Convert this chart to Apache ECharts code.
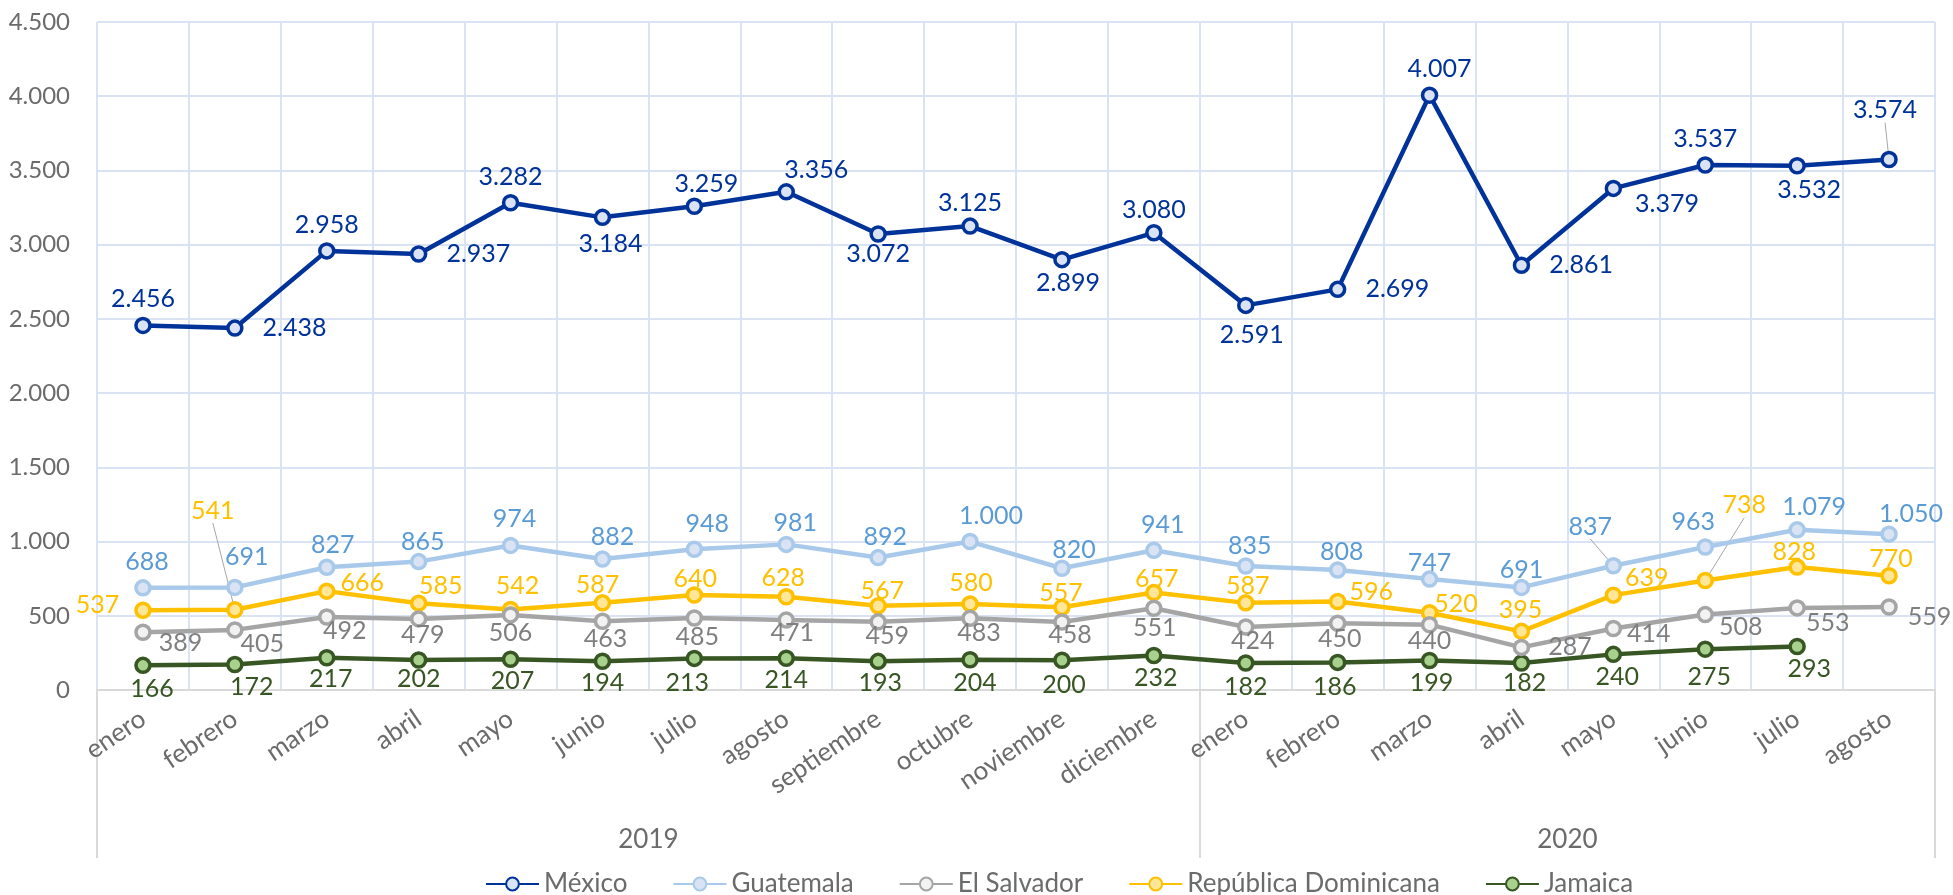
<!DOCTYPE html>
<html>
<head>
<meta charset="utf-8">
<script src="https://cdn.jsdelivr.net/npm/echarts@6/dist/echarts.min.js"></script>
<style>
  html, body { margin: 0; padding: 0; background: #fff; }
  #chart { width: 1953px; height: 895px; }
</style>
</head>
<body>
<div id="chart"></div>
<script>
// datos
var months = ['enero', 'febrero', 'marzo', 'abril', 'mayo', 'junio', 'julio', 'agosto',
  'septiembre', 'octubre', 'noviembre', 'diciembre',
  'enero', 'febrero', 'marzo', 'abril', 'mayo', 'junio', 'julio', 'agosto'];
var years = ['2019', '2020'];
var yearMonths = [12, 8];
var yTicks = [0, 500, 1000, 1500, 2000, 2500, 3000, 3500, 4000, 4500];

var mexico = [2456, 2438, 2958, 2937, 3282, 3184, 3259, 3356, 3072, 3125, 2899, 3080,
  2591, 2699, 4007, 2861, 3379, 3537, 3532, 3574];
var guatemala = [688, 691, 827, 865, 974, 882, 948, 981, 892, 1000, 820, 941,
  835, 808, 747, 691, 837, 963, 1079, 1050];
var elSalvador = [389, 405, 492, 479, 506, 463, 485, 471, 459, 483, 458, 551,
  424, 450, 440, 287, 414, 508, 553, 559];
var repDominicana = [537, 541, 666, 585, 542, 587, 640, 628, 567, 580, 557, 657,
  587, 596, 520, 395, 639, 738, 828, 770];
var jamaica = [166, 172, 217, 202, 207, 194, 213, 214, 193, 204, 200, 232,
  182, 186, 199, 182, 240, 275, 293, null];

// colocacion de etiquetas: [posicion, dx, dy]  (L = con linea guia)
var lblMex = [['t',0,0],['r',14,0],['t',0,0],['r',14,0],['t',0,0],['b',8,0],['t',12,4],['t',30,4],
  ['b',0,-6],['t',0,3],['b',6,-3],['t',0,3],['b',6,3],['r',14,0],['t',10,0],['r',14,0],
  ['r',8,16],['t',0,0],['b',12,-2],['L',-4,-23]];
var lblGua = [['t',4,0],['t',12,-4],['t',6,4],['t',4,7],['t',4,0],['t',10,4],['t',13,1],['t',9,5],
  ['t',7,6],['t',21,1],['t',12,8],['t',9,1],['t',4,6],['t',4,8],['t',0,10],['t',0,9],
  ['L',-23,-13],['t',-12,1],['t',17,3],['t',22,6]];
var lblEls = [['r',2,11],['r',-8,14],['b',18,-12],['b',4,-10],['b',0,-8],['b',3,-9],['b',3,-7],['b',6,-13],
  ['b',9,-12],['b',9,-12],['b',8,-13],['b',1,-7],['b',7,-12],['b',2,-11],['b',0,-10],['r',13,0],
  ['r',0,5],['r',0,12],['r',-5,15],['r',5,10]];
var lblRd = [['l',-10,-5],['L',-22,-73],['r',0,-8],['t',22,9],['t',7,3],['t',-5,8],['t',1,10],['t',-3,7],
  ['t',4,11],['t',1,5],['t',-1,12],['t',3,13],['t',2,9],['r',-2,-10],['r',-9,-9],['t',-1,5],
  ['r',-2,-17],['L',39,-49],['t',-3,11],['t',2,9]];
var lblJam = [['b',9,-3],['b',17,-4],['b',4,-5],['b',0,-7],['b',2,-5],['b',0,-5],['b',-7,-2],['b',0,-5],
  ['b',2,-5],['b',5,-3],['b',2,-2],['b',2,-4],['b',0,-2],['b',-3,-2],['b',2,-4],['b',3,-6],
  ['b',4,-4],['b',4,2],['b',12,-4],['b',0,0]];

var FONT = 'Lato';
var TXT = '#6b6b6b';
var POS = { t: 'top', b: 'bottom', l: 'left', r: 'right', L: 'top' };
var layouts = [];

function fmt(n) {
  return String(n).replace(/\B(?=(\d{3})+(?!\d))/g, '.');
}

function makeSeries(idx, name, values, lbl, line, fill, txt) {
  layouts[idx] = lbl;
  return {
    name: name,
    type: 'line',
    z: 10 - idx,
    symbol: 'circle',
    symbolSize: 14,
    lineStyle: { color: line, width: 4.5 },
    itemStyle: { color: fill, borderColor: line, borderWidth: 3.5 },
    label: {
      show: true, color: txt, fontSize: 25, fontFamily: FONT, distance: 5,
      formatter: function (p) { return fmt(p.value); }
    },
    labelLine: { show: false, lineStyle: { color: '#a6a6a6', width: 1 } },
    labelLayout: function (p) {
      var l = layouts[p.seriesIndex][p.dataIndex];
      return { dx: l[1], dy: l[2] };
    },
    data: values.map(function (v, i) {
      var item = { value: v, label: { position: POS[lbl[i][0]] } };
      if (lbl[i][0] === 'L') item.labelLine = { show: true };
      return item;
    })
  };
}

// eje de años (0..20, un mes = 1)
var yearBounds = [0];
var yearCenters = [];
yearMonths.forEach(function (n) {
  var start = yearBounds[yearBounds.length - 1];
  yearCenters.push(start + n / 2);
  yearBounds.push(start + n);
});

var option = {
  animation: false,
  textStyle: { fontFamily: FONT },
  grid: { left: 97, right: 18, top: 22, bottom: 205 },
  legend: {
    left: 480, top: 866,
    itemWidth: 53, itemHeight: 16, itemGap: 45,
    textStyle: { color: TXT, fontSize: 26, fontFamily: FONT },
    data: ['México', 'Guatemala', 'El Salvador', 'República Dominicana', 'Jamaica']
  },
  xAxis: [{
    type: 'category',
    data: months,
    boundaryGap: true,
    axisLine: { lineStyle: { color: '#d9d9d9', width: 2 } },
    axisTick: { show: false },
    axisLabel: { interval: 0, rotate: 34, margin: 26, color: TXT, fontSize: 26, fontFamily: FONT },
    splitLine: { show: true, lineStyle: { color: '#dae3f3', width: 2 } }
  }, {
    type: 'value',
    position: 'bottom',
    min: 0,
    max: yearBounds[yearBounds.length - 1],
    axisLine: { show: false },
    splitLine: { show: false },
    axisTick: { show: true, customValues: yearBounds, length: 168, lineStyle: { color: '#d9d9d9', width: 2 } },
    axisLabel: {
      customValues: yearCenters, margin: 137, color: TXT, fontSize: 26, fontFamily: FONT,
      formatter: function (v) { return years[yearCenters.indexOf(v)] || ''; }
    }
  }],
  yAxis: {
    type: 'value',
    min: yTicks[0],
    max: yTicks[yTicks.length - 1],
    interval: yTicks[1] - yTicks[0],
    axisLine: { show: false },
    axisTick: { show: false },
    axisLabel: { color: TXT, fontSize: 24, fontFamily: FONT, margin: 27, formatter: fmt },
    splitLine: { lineStyle: { color: '#dae3f3', width: 2 } }
  },
  series: [
    makeSeries(0, 'México', mexico, lblMex, '#003399', '#dae3f3', '#003399'),
    makeSeries(1, 'Guatemala', guatemala, lblGua, '#a9c9eb', '#dae3f3', '#5b9bd5'),
    makeSeries(2, 'El Salvador', elSalvador, lblEls, '#a5a5a5', '#f2f2f2', '#7f7f7f'),
    makeSeries(3, 'República Dominicana', repDominicana, lblRd, '#ffc000', '#ffe699', '#ffc000'),
    makeSeries(4, 'Jamaica', jamaica, lblJam, '#375623', '#a9d18e', '#375623')
  ]
};

var myChart = echarts.init(document.getElementById('chart'));
myChart.setOption(option);
</script>
</body>
</html>
